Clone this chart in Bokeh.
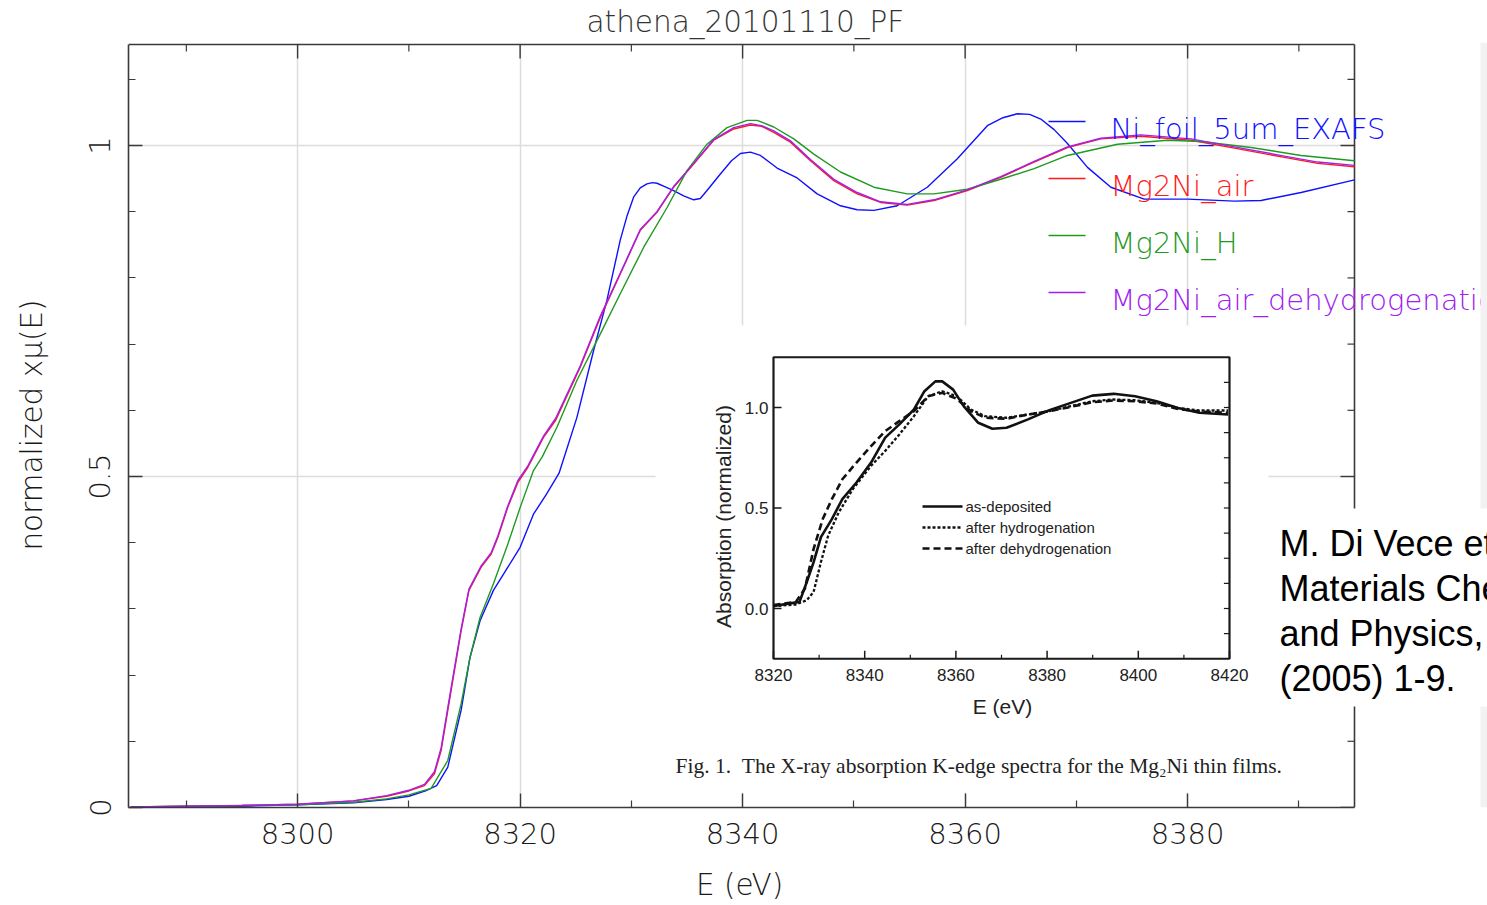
import math
from bokeh.plotting import figure
from bokeh.models import Range1d, LinearAxis, FixedTicker, Grid, BoxAnnotation, Label, Title
from bokeh.core.properties import value
from bokeh.embed import file_html
from bokeh.resources import INLINE

# ---------------- data: main chart ----------------
TITLE = "athena_20101110_PF"
X_LABEL = "E (eV)"
Y_LABEL = "normalized xμ(E)"
X_MAJOR = [8300, 8320, 8340, 8360, 8380]
X_MINOR = [8290, 8310, 8330, 8350, 8370, 8390]
Y_MAJOR = [0, 0.5, 1.0]
Y_MINOR = [0.1, 0.2, 0.3, 0.4, 0.6, 0.7, 0.8, 0.9, 1.1]
Y_TICK_TEXT = {0: "0", 0.5: "0.5", 1: "1"}

SERIES_NAMES = ["Ni_foil_5um_EXAFS", "Mg2Ni_air", "Mg2Ni_H", "Mg2Ni_air_dehydrogenation"]
SERIES_COLORS = ["#1010ff", "#ff1a1a", "#1f9a1f", "#a020f0"]

E_NI = [8285, 8290, 8295, 8300, 8305, 8308, 8310, 8311.5, 8312.5, 8313.5, 8314.7, 8315.5,
        8316.4, 8317.6, 8318.9, 8320.0, 8321.2, 8322.4, 8323.5, 8325.1, 8326.6, 8327.8,
        8329.0, 8329.6, 8330.2, 8330.8, 8331.4, 8331.9, 8332.3, 8333.0, 8333.8, 8334.7, 8335.6,
        8336.2, 8336.8, 8338.0, 8339.0, 8339.8, 8340.7, 8341.6, 8343.1, 8344.9, 8346.7,
        8348.8, 8350.3, 8351.8, 8353.9, 8356.6, 8359.3, 8362.0, 8363.4, 8364.7, 8365.8,
        8366.8, 8368.0, 8369.2, 8371.0, 8373.1, 8376.1, 8380.0, 8384.2, 8386.6, 8390.2, 8395.0]
MU_NI = [0.000, 0.001, 0.002, 0.004, 0.007, 0.012, 0.017, 0.025, 0.033, 0.061, 0.147, 0.227,
         0.282, 0.328, 0.363, 0.393, 0.443, 0.474, 0.505, 0.589, 0.690, 0.766,
         0.857, 0.893, 0.922, 0.936, 0.942, 0.944, 0.943, 0.938, 0.932, 0.924, 0.918,
         0.920, 0.932, 0.957, 0.977, 0.988, 0.990, 0.985, 0.966, 0.951, 0.927,
         0.909, 0.903, 0.902, 0.909, 0.937, 0.980, 1.030, 1.042, 1.048, 1.047,
         1.040, 1.024, 1.003, 0.967, 0.937, 0.919, 0.919, 0.916, 0.917, 0.929, 0.948]

E_AIR = [8285, 8290, 8295, 8300, 8305, 8308, 8310, 8311.4, 8312.3, 8312.9, 8313.8, 8314.7,
         8315.4, 8316.5, 8317.4, 8318.0, 8318.9, 8319.8, 8320.7, 8322.1, 8323.2, 8325.4,
         8327.2, 8329.0, 8330.8, 8332.3, 8333.8, 8335.6, 8337.4, 8339.2, 8340.7, 8341.7,
         8342.8, 8344.3, 8346.1, 8348.2, 8350.3, 8352.4, 8354.8, 8357.2, 8360.2, 8363.2,
         8366.2, 8369.2, 8372.2, 8375.8, 8380.3, 8384.2, 8388.7, 8391.7, 8395.0]
MU_AIR = [0.001, 0.002, 0.003, 0.005, 0.010, 0.017, 0.025, 0.033, 0.051, 0.086, 0.177, 0.267,
          0.328, 0.363, 0.383, 0.408, 0.454, 0.491, 0.514, 0.559, 0.585, 0.665,
          0.740, 0.806, 0.872, 0.899, 0.937, 0.972, 1.008, 1.025, 1.031, 1.029,
          1.020, 1.005, 0.977, 0.947, 0.927, 0.914, 0.910, 0.917, 0.932, 0.952,
          0.975, 0.997, 1.010, 1.014, 1.008, 0.996, 0.982, 0.973, 0.968]

E_H = [8285, 8290, 8295, 8300, 8305, 8308, 8310, 8312, 8313.5, 8314.7, 8315.5, 8316.4,
       8317.6, 8318.9, 8320.0, 8321.2, 8322.0, 8323.3, 8325.1, 8327.2, 8329.0, 8331.1,
       8333.2, 8335.0, 8336.8, 8338.6, 8340.4, 8341.3, 8342.8, 8344.6, 8346.4, 8348.8,
       8351.8, 8354.8, 8357.2, 8360.2, 8363.2, 8366.2, 8369.2, 8373.7, 8378.2, 8381.2,
       8385.7, 8390.2, 8395.0]
MU_H = [0.001, 0.002, 0.003, 0.004, 0.008, 0.013, 0.019, 0.029, 0.071, 0.157, 0.227, 0.287,
        0.338, 0.398, 0.453, 0.509, 0.530, 0.574, 0.645, 0.715, 0.776, 0.846,
        0.906, 0.962, 1.002, 1.027, 1.038, 1.038, 1.028, 1.010, 0.987, 0.960,
        0.937, 0.927, 0.927, 0.934, 0.949, 0.965, 0.985, 1.002, 1.008, 1.006,
        0.997, 0.985, 0.977]

E_DEH = [8285, 8290, 8295, 8300, 8305, 8308, 8310, 8311.4, 8312.3, 8312.9, 8313.8, 8314.7,
         8315.4, 8316.5, 8317.4, 8318.0, 8318.9, 8319.8, 8320.7, 8322.1, 8323.2, 8325.4,
         8327.2, 8329.0, 8330.8, 8332.3, 8333.8, 8335.6, 8337.4, 8339.2, 8340.7, 8341.7,
         8342.8, 8344.3, 8346.1, 8348.2, 8350.3, 8352.4, 8354.8, 8357.2, 8360.2, 8363.2,
         8366.2, 8369.2, 8372.2, 8375.8, 8380.3, 8384.2, 8388.7, 8391.7, 8395.0]
MU_DEH = [0.001, 0.002, 0.003, 0.005, 0.010, 0.018, 0.026, 0.035, 0.054, 0.090, 0.181, 0.270,
          0.330, 0.365, 0.385, 0.410, 0.456, 0.494, 0.516, 0.561, 0.588, 0.667,
          0.742, 0.807, 0.873, 0.900, 0.938, 0.973, 1.009, 1.027, 1.033, 1.030,
          1.022, 1.007, 0.979, 0.949, 0.929, 0.915, 0.911, 0.918, 0.933, 0.953,
          0.976, 0.998, 1.011, 1.016, 1.010, 0.998, 0.984, 0.975, 0.970]

# ---------------- data: inset (published figure) ----------------
INSET_X_LABEL = "E (eV)"
INSET_Y_LABEL = "Absorption (normalized)"
INSET_XLIM = [8320, 8420]
INSET_YLIM = [-0.25, 1.25]
INSET_X_MAJOR = [8320, 8340, 8360, 8380, 8400, 8420]
INSET_X_MINOR = [8330, 8350, 8370, 8390, 8410]
INSET_Y_MAJOR = [0.0, 0.5, 1.0]
INSET_Y_MINOR = [-0.125, 0.125, 0.25, 0.375, 0.625, 0.75, 0.875, 1.125]
INSET_Y_TEXT = ["0.0", "0.5", "1.0"]
INSET_NAMES = ["as-deposited", "after hydrogenation", "after dehydrogenation"]
INSET_DASH = ["solid", "3 2", "7 4"]
INSET_WIDTH = [2.6, 2.3, 2.6]

IE = [8320, 8325.7, 8327.3, 8328.8, 8330.4, 8332.8, 8335.1, 8338.2, 8341.4, 8344.5, 8347.6,
      8350.8, 8353.1, 8355.5, 8357.0, 8359.4, 8361.7, 8364.9, 8368.0, 8371.1, 8375.8,
      8380.5, 8385.2, 8389.9, 8394.6, 8399.3, 8404.0, 8408.7, 8413.4, 8419.7]
I_ASDEP = [0.012, 0.033, 0.132, 0.231, 0.355, 0.445, 0.544, 0.627, 0.726, 0.850, 0.916,
           0.990, 1.081, 1.130, 1.130, 1.089, 1.007, 0.924, 0.894, 0.899, 0.941,
           0.987, 1.023, 1.059, 1.068, 1.056, 1.031, 0.998, 0.974, 0.965]
IE_H = [8320, 8324.9, 8327.3, 8328.8, 8330.4, 8332.0, 8334.3, 8337.4, 8341.4, 8344.5, 8347.6,
        8350.8, 8353.9, 8357.0, 8360.2, 8363.3, 8366.4, 8371.1, 8375.8, 8380.5, 8385.2,
        8389.9, 8394.6, 8399.3, 8404.0, 8408.7, 8413.4, 8419.7]
I_HYD = [0.012, 0.020, 0.041, 0.083, 0.231, 0.363, 0.478, 0.594, 0.710, 0.784, 0.866,
         0.957, 1.056, 1.081, 1.056, 0.990, 0.957, 0.949, 0.965, 0.982, 1.007,
         1.031, 1.040, 1.036, 1.023, 0.998, 0.985, 0.985]
IE_D = [8320, 8324.9, 8326.9, 8328.8, 8330.8, 8332.8, 8335.1, 8338.2, 8341.4, 8344.5, 8347.6,
        8350.8, 8353.9, 8357.0, 8360.2, 8363.3, 8366.4, 8371.1, 8375.8, 8380.5, 8385.2,
        8389.9, 8394.6, 8399.3, 8404.0, 8408.7, 8413.4, 8419.7]
I_DEHYD = [0.017, 0.033, 0.099, 0.297, 0.445, 0.544, 0.643, 0.726, 0.808, 0.883, 0.932,
           0.982, 1.056, 1.073, 1.043, 0.982, 0.949, 0.944, 0.965, 0.982, 1.003,
           1.026, 1.035, 1.031, 1.020, 0.993, 0.980, 0.974]

CAPTION = "Fig.\u00a01.\u00a0\u00a0The X-ray absorption K-edge spectra for the Mg\u2082Ni thin films."
CITATION = ["M. Di Vece et al.,", "Materials Chemistry", "and Physics, 91", "(2005) 1-9."]

# ---------------- layout constants ----------------
W, H = 1487, 905
L, R, T, B = 128, 1354, 44, 807          # main plot box (pixels)
FL, FR, FT, FB = 128, W, 42, 807        # bokeh frame (pixels)
XR = (8284.8, 8395.0)
YR = (0.0, 1.1526)
FONT = "DejaVu Sans Light, DejaVu Sans"
AX_COLOR = "#3a3a3a"


def dx(px):
    return XR[0] + (px - L) * (XR[1] - XR[0]) / (R - L)


def dy(py):
    return YR[0] + (B - py) * (YR[1] - YR[0]) / (B - T)


PX_X = (XR[1] - XR[0]) / (R - L)   # data units per pixel
PX_Y = (YR[1] - YR[0]) / (B - T)

# inset anchors (pixel positions of inset axis values)
IX_PX = (773, 1229)     # 8320, 8420
IY_PX = (608, 407)      # 0.0, 1.0
ixs = (IX_PX[1] - IX_PX[0]) / (INSET_XLIM[1] - INSET_XLIM[0])
iys = (IY_PX[0] - IY_PX[1]) / 1.0
IXR = (INSET_XLIM[0] - (IX_PX[0] - FL) / ixs, INSET_XLIM[1] + (FR - IX_PX[1]) / ixs)
IYR = (0.0 - (FB - IY_PX[0]) / iys, 0.0 + (IY_PX[0] - FT) / iys)


def ix(px):
    return INSET_XLIM[0] + (px - IX_PX[0]) / ixs


def iy(py):
    return (IY_PX[0] - py) / iys


p = figure(width=W, height=H, x_range=Range1d(dx(FL), dx(FR)), y_range=Range1d(dy(FB), dy(FT)),
           x_axis_type=None, y_axis_type=None, title=None,
           output_backend="svg", toolbar_location=None,
           min_border_left=FL, min_border_right=0, min_border_top=FT, min_border_bottom=H - FB)
p.outline_line_color = None
p.background_fill_color = "white"
p.border_fill_color = "white"
p.extra_x_ranges = {"ix": Range1d(*IXR)}
p.extra_y_ranges = {"iy": Range1d(*IYR)}

# title over the main box (the frame is wider than the box, so align by offset)
p.add_layout(Title(text=TITLE, align="left", offset=586 - FL, standoff=6, vertical_align="middle",
                   text_font=FONT, text_font_size="29.5px", text_font_style="normal",
                   text_color="#333333"), "above")

xt = FixedTicker(ticks=X_MAJOR, minor_ticks=X_MINOR)
yt = FixedTicker(ticks=Y_MAJOR, minor_ticks=Y_MINOR)


def style_axis(ax):
    ax.axis_line_color = AX_COLOR
    ax.axis_line_width = 1.6
    ax.major_tick_line_color = AX_COLOR
    ax.minor_tick_line_color = AX_COLOR
    ax.major_tick_line_width = 1.4
    ax.minor_tick_line_width = 1.2
    ax.major_tick_in = 14
    ax.major_tick_out = 0
    ax.minor_tick_in = 7
    ax.minor_tick_out = 0
    ax.major_label_text_font = FONT
    ax.major_label_text_font_size = "29px"
    ax.major_label_text_color = "#1a1a1a"
    ax.axis_label_text_font = FONT
    ax.axis_label_text_font_size = "29.5px"
    ax.axis_label_text_font_style = "normal"
    ax.axis_label_text_color = "#1a1a1a"


# the frame extends past the box on the right; trailing wide spaces keep the label centred on the box
xb = LinearAxis(ticker=xt, axis_label=X_LABEL + "\u2003" * 4 + "\u00a0" * 2, bounds=XR)
style_axis(xb)
xb.major_label_standoff = 15
xb.axis_label_standoff = 21
p.add_layout(xb, "below")

yl = LinearAxis(ticker=yt, axis_label=Y_LABEL, major_label_overrides=Y_TICK_TEXT,
                major_label_orientation="vertical", bounds=YR)
style_axis(yl)
yl.major_label_standoff = 18
yl.axis_label_standoff = 38
p.add_layout(yl, "left")

p.add_layout(Grid(dimension=0, ticker=FixedTicker(ticks=X_MAJOR),
                  grid_line_color="#dcdcdc", grid_line_width=1.5))
p.add_layout(Grid(dimension=1, ticker=FixedTicker(ticks=Y_MAJOR),
                  grid_line_color="#dcdcdc", grid_line_width=1.5))

# white areas outside the main box and behind the pasted inset (hide grid there)
for lft, rgt, top, bot in [(FL, FR, FT, T), (R + 1, FR, FT, FB), (655, 1268, 325, 792)]:
    p.add_layout(BoxAnnotation(left=dx(lft), right=dx(rgt), top=dy(top), bottom=dy(bot),
                               fill_color="white", fill_alpha=1.0, line_alpha=0, level="underlay"))

# top and right sides of the main box with inward ticks
p.segment(x0=[XR[0], XR[1]], y0=[YR[1], YR[0]], x1=[XR[1], XR[1]], y1=[YR[1], YR[1]],
          line_color=AX_COLOR, line_width=1.6)
p.segment(x0=X_MAJOR, y0=[YR[1]] * len(X_MAJOR), x1=X_MAJOR, y1=[YR[1] - 14 * PX_Y] * len(X_MAJOR),
          line_color=AX_COLOR, line_width=1.4)
p.segment(x0=X_MINOR, y0=[YR[1]] * len(X_MINOR), x1=X_MINOR, y1=[YR[1] - 7 * PX_Y] * len(X_MINOR),
          line_color=AX_COLOR, line_width=1.2)
p.segment(x0=[XR[1]] * len(Y_MAJOR), y0=Y_MAJOR, x1=[XR[1] - 14 * PX_X] * len(Y_MAJOR), y1=Y_MAJOR,
          line_color=AX_COLOR, line_width=1.4)
p.segment(x0=[XR[1]] * len(Y_MINOR), y0=Y_MINOR, x1=[XR[1] - 7 * PX_X] * len(Y_MINOR), y1=Y_MINOR,
          line_color=AX_COLOR, line_width=1.2)

# ---------------- main curves ----------------
series = [(E_NI, MU_NI), (E_AIR, MU_AIR), (E_H, MU_H), (E_DEH, MU_DEH)]
for (xs, ys), col in zip(series, SERIES_COLORS):
    p.line(xs, ys, line_color=col, line_width=1.4)

# main legend
LEG_Y = [121, 178, 235, 292]
for name, col, ly in zip(SERIES_NAMES, SERIES_COLORS, LEG_Y):
    p.segment(x0=[dx(1048)], y0=[dy(ly)], x1=[dx(1085)], y1=[dy(ly)], line_color=col, line_width=1.4)
    p.add_layout(Label(x=dx(1110), y=dy(ly + 7), text=name, text_color=col,
                       text_font=FONT, text_font_size="29px", text_baseline="alphabetic"))

# ---------------- inset ----------------
IK = dict(x_range_name="ix", y_range_name="iy")
p.quad(left=[INSET_XLIM[0]], right=[INSET_XLIM[1]], bottom=[INSET_YLIM[0]], top=[INSET_YLIM[1]],
       fill_color=None, line_color="#1a1a1a", line_width=2.2, **IK)

tick_v = 8 / iys
tick_h = 8 / ixs
RT = INSET_Y_MINOR + INSET_Y_MAJOR
p.segment(x0=INSET_X_MAJOR, y0=[INSET_YLIM[0]] * len(INSET_X_MAJOR), x1=INSET_X_MAJOR,
          y1=[INSET_YLIM[0] + tick_v] * len(INSET_X_MAJOR), line_color="#1a1a1a", line_width=1.5, **IK)
p.segment(x0=INSET_X_MINOR, y0=[INSET_YLIM[0]] * len(INSET_X_MINOR), x1=INSET_X_MINOR,
          y1=[INSET_YLIM[0] + tick_v / 2] * len(INSET_X_MINOR), line_color="#1a1a1a", line_width=1.2, **IK)
p.segment(x0=[INSET_XLIM[0]] * 3, y0=INSET_Y_MAJOR, x1=[INSET_XLIM[0] + tick_h] * 3, y1=INSET_Y_MAJOR,
          line_color="#1a1a1a", line_width=1.5, **IK)
p.segment(x0=[INSET_XLIM[1]] * len(RT), y0=RT, x1=[INSET_XLIM[1] - tick_h * 0.7] * len(RT), y1=RT,
          line_color="#1a1a1a", line_width=1.2, **IK)

p.text(x=INSET_X_MAJOR, y=[iy(674)] * len(INSET_X_MAJOR), text=[str(v) for v in INSET_X_MAJOR],
       text_align="center", text_baseline="middle", text_font=value("Liberation Sans"),
       text_font_size="17px", text_color="#222222", **IK)
p.text(x=[ix(768)] * 3, y=INSET_Y_MAJOR, text=INSET_Y_TEXT, text_align="right", text_baseline="middle",
       text_font=value("Liberation Sans"), text_font_size="17px", text_color="#222222", **IK)
p.text(x=[ix(723)], y=[iy(516)], text=[INSET_Y_LABEL], angle=math.pi / 2, text_align="center",
       text_baseline="middle", text_font=value("Liberation Sans"), text_font_size="21px",
       text_color="#222222", **IK)
p.text(x=[ix(1002)], y=[iy(706)], text=[INSET_X_LABEL], text_align="center", text_baseline="middle",
       text_font=value("Liberation Sans"), text_font_size="21px", text_color="#222222", **IK)

inset_series = [(IE, I_ASDEP), (IE_H, I_HYD), (IE_D, I_DEHYD)]
for (xs, ys), dash, lw in zip(inset_series, INSET_DASH, INSET_WIDTH):
    p.line(xs, ys, line_color="#111111", line_width=lw, line_dash=dash, **IK)

ILEG_Y = [506, 527, 548]
for name, dash, lw, ly in zip(INSET_NAMES, INSET_DASH, INSET_WIDTH, ILEG_Y):
    p.segment(x0=[ix(922)], y0=[iy(ly)], x1=[ix(962)], y1=[iy(ly)], line_color="#111111",
              line_width=lw, line_dash=dash, **IK)
    p.text(x=[ix(965)], y=[iy(ly)], text=[name], text_align="left", text_baseline="middle",
           text_font=value("Liberation Sans"), text_font_size="15px", text_color="#222222", **IK)

p.add_layout(Label(x=dx(675), y=dy(765), text=CAPTION, text_font="Liberation Serif",
                   text_font_size="21.5px", text_color="#222222", text_baseline="alphabetic"))

# ---------------- page edge and citation box ----------------
p.add_layout(BoxAnnotation(left=dx(1480), right=dx(FR), top=dy(FT), bottom=dy(FB),
                           fill_color="#f2f2f2", fill_alpha=1.0, line_alpha=0, level="overlay"))
p.add_layout(BoxAnnotation(left=dx(1262), right=dx(FR), top=dy(508), bottom=dy(706),
                           fill_color="white", fill_alpha=1.0, line_alpha=0, level="overlay"))
CIT_MID = [543, 588, 633, 678]
for line, by in zip(CITATION, CIT_MID):
    p.add_layout(Label(x=dx(1279), y=dy(by), text=line, text_font="Liberation Sans",
                       text_font_size="36px", text_color="#000000", text_baseline="alphabetic",
                       level="overlay"))

open("out.html", "w").write(file_html(p, INLINE))
